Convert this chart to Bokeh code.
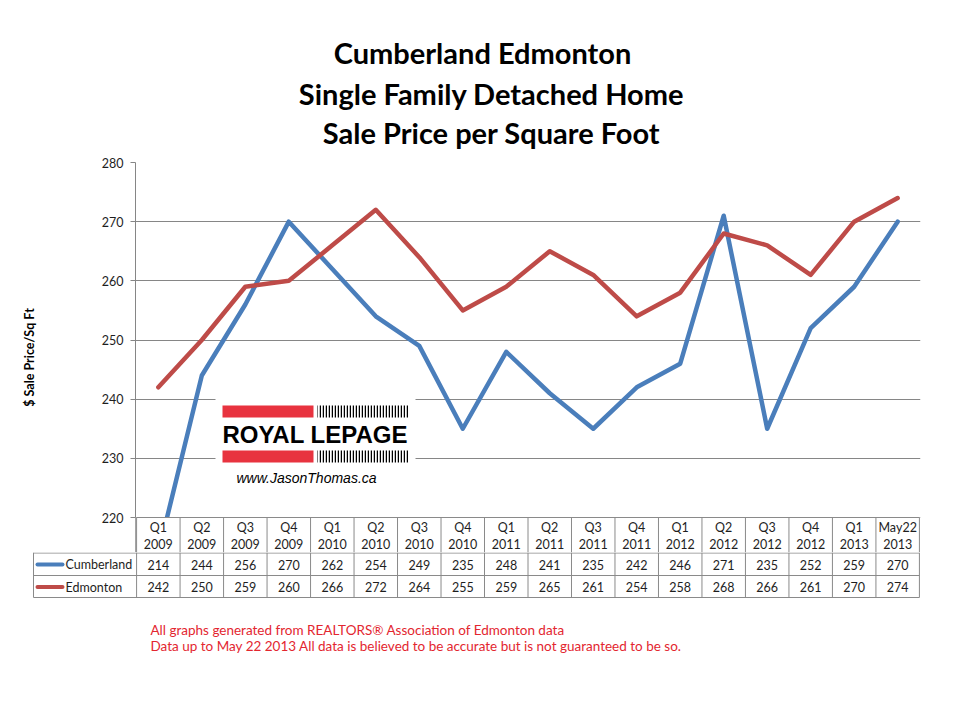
from bokeh.plotting import figure
from bokeh.models import Range1d, FactorRange, FixedTicker, BoxAnnotation
from bokeh.layouts import column
from bokeh.embed import file_html
from bokeh.resources import INLINE
from bokeh.core.properties import value

# ---------------- data ----------------
periods = ["Q1", "Q2", "Q3", "Q4", "Q1", "Q2", "Q3", "Q4", "Q1", "Q2",
           "Q3", "Q4", "Q1", "Q2", "Q3", "Q4", "Q1", "May22"]
years = ["2009", "2009", "2009", "2009", "2010", "2010", "2010", "2010", "2011", "2011",
         "2011", "2011", "2012", "2012", "2012", "2012", "2013", "2013"]
cumberland = [214, 244, 256, 270, 262, 254, 249, 235, 248, 241,
              235, 242, 246, 271, 235, 252, 259, 270]
edmonton = [242, 250, 259, 260, 266, 272, 264, 255, 259, 265,
            261, 254, 258, 268, 266, 261, 270, 274]
series_names = ["Cumberland", "Edmonton"]
y_ticks = [220, 230, 240, 250, 260, 270, 280]
y_label = "$ Sale Price/Sq Ft"
title_lines = ["Cumberland Edmonton", "Single Family Detached Home", "Sale Price per Square Foot"]
footer_lines = ["All graphs generated from REALTORS\u00ae Association of Edmonton data",
                "Data up to  May 22  2013  All data is believed to be accurate but is not guaranteed to be so."]
logo_name = "ROYAL LEPAGE"
logo_url = "www.JasonThomas.ca"

# ---------------- styling / layout (page pixel coordinates) ----------------
FONT = "Lato"
COLORS = ["#4A7EBB", "#BE4B48"]
GRID = "#868686"
TLINE = "#8a8a8a"
TXT = "#1e1e1e"
RED = "#E8333F"
FOOT_RED = "#e3262f"

ORIGIN = 0
W = 950
FRAME_L, FRAME_R = 135, 920
PLOT_T, PLOT_B = 162, 517
HEAD_B = 552
ROW_B = [575, 597]
P1_TOP = 152
TITLE_H = P1_TOP - ORIGIN
P2_H = 160
PAD = 0.025

n = len(periods)
cats = [f"{q} {y}" for q, y in zip(periods, years)]
col_w = (FRAME_R - FRAME_L) / (n + 2 * PAD)


def colx(page_x):
    """page x pixel -> column (synthetic categorical) coordinate"""
    return -PAD + (page_x - FRAME_L) / col_w


common = dict(toolbar_location=None, output_backend="svg", outline_line_color=None,
              frame_align=False)

# ---------------- title strip ----------------
p0 = figure(width=W, height=TITLE_H, x_range=Range1d(ORIGIN, ORIGIN + W),
            y_range=Range1d(P1_TOP, ORIGIN),
            x_axis_location=None, y_axis_location=None, min_border=0, **common)
p0.grid.visible = False
p0.text(x=[482, 491, 491], y=[52, 93, 132], text=title_lines, text_font=value(FONT),
        text_font_style="bold", text_font_size="29px", text_align="center",
        text_baseline="middle", text_color="black")

# ---------------- main plot (plus table header row) ----------------
px_per_unit = (PLOT_B - PLOT_T) / (y_ticks[-1] - y_ticks[0])
y_bottom = y_ticks[0] - (HEAD_B - PLOT_B) / px_per_unit
p1 = figure(width=W, height=HEAD_B - P1_TOP,
            x_range=FactorRange(factors=cats, range_padding=PAD, range_padding_units="absolute"),
            y_range=Range1d(y_bottom, y_ticks[-1]), x_axis_location=None,
            min_border_left=FRAME_L - ORIGIN, min_border_right=ORIGIN + W - FRAME_R,
            min_border_top=PLOT_T - P1_TOP, min_border_bottom=0, **common)
p1.extra_y_ranges = {"py": Range1d(HEAD_B, PLOT_T)}

ax = p1.yaxis[0]
ax.ticker = FixedTicker(ticks=y_ticks)
ax.axis_line_color = GRID
ax.major_tick_line_color = GRID
ax.major_tick_out = 5
ax.major_tick_in = 0
ax.minor_tick_line_color = None
ax.major_label_text_font = FONT
ax.major_label_text_font_size = "12.5px"
ax.major_label_text_color = TXT
ax.major_label_standoff = 7
ax.axis_label = y_label
ax.axis_label_text_font = FONT
ax.axis_label_text_font_size = "12.5px"
ax.axis_label_text_font_style = "bold"
ax.axis_label_text_color = "black"
ax.axis_label_standoff = 62
p1.ygrid.ticker = FixedTicker(ticks=y_ticks)
p1.ygrid.grid_line_color = GRID
p1.xgrid.visible = False

# logo (page y via extra range, x via column coordinates)
rk = dict(y_range_name="py")
p1.quad(left=[colx(215)], right=[colx(415)], top=[396], bottom=[491],
        fill_color="white", line_color=None, **rk)
p1.quad(left=[colx(222)] * 2, right=[colx(313)] * 2, top=[405, 450], bottom=[417, 462],
        fill_color=RED, line_color=None, **rk)
p1.quad(left=[colx(317)] * 2, right=[colx(408)] * 2, top=[405, 450], bottom=[417, 462],
        fill_color="white", line_color=None, hatch_pattern="vertical_line",
        hatch_color="black", hatch_scale=3, hatch_weight=1.5, **rk)
p1.text(x=[colx(222)], y=[434], text=[logo_name], text_font=value("Liberation Sans"),
        text_font_style="bold", text_font_size="24px", text_align="left",
        text_baseline="middle", text_color="black", **rk)
p1.text(x=[colx(236)], y=[477], text=[logo_url], text_font=value("Liberation Sans"),
        text_font_style="italic", text_font_size="14px", text_align="left",
        text_baseline="middle", text_color="black", **rk)

for vals, color in zip([cumberland, edmonton], COLORS):
    p1.line(x=cats, y=vals, line_width=4.5, line_color=color, line_join="round", line_cap="round")

# mask below the lowest tick (the chart area ends at 220)
p1.add_layout(BoxAnnotation(top=y_ticks[0], fill_color="white", fill_alpha=1.0,
                            line_color=None, level="annotation"))

# table header row
p1.segment(x0=[0], y0=[PLOT_B], x1=[n], y1=[PLOT_B], line_color=TLINE, line_width=1,
           y_range_name="py", level="overlay")
p1.segment(x0=list(range(n + 1)), y0=[PLOT_B] * (n + 1), x1=list(range(n + 1)),
           y1=[HEAD_B] * (n + 1), line_color=TLINE, line_width=1,
           y_range_name="py", level="overlay")
hdr = dict(text_font=value(FONT), text_font_size="12.5px", text_align="center",
           text_baseline="middle", text_color=TXT, y_range_name="py", level="overlay")
p1.text(x=cats, y=[527] * n, text=periods, **hdr)
p1.text(x=cats, y=[543] * n, text=years, **hdr)

# ---------------- table rows + footer ----------------
p2 = figure(width=W, height=P2_H,
            x_range=Range1d(colx(ORIGIN), colx(ORIGIN + W)), y_range=Range1d(HEAD_B + P2_H, HEAD_B),
            x_axis_location=None, y_axis_location=None, min_border=0, **common)
p2.grid.visible = False

leg_l = colx(33)
row_tops = [HEAD_B, ROW_B[0]]
row_bots = ROW_B
p2.segment(x0=[leg_l] * 3, y0=[HEAD_B + 0.5, ROW_B[0], ROW_B[1]], x1=[n] * 3,
           y1=[HEAD_B + 0.5, ROW_B[0], ROW_B[1]], line_color=TLINE, line_width=1)
vx = [leg_l] + list(range(n + 1))
p2.segment(x0=vx, y0=[HEAD_B] * len(vx), x1=vx, y1=[ROW_B[1]] * len(vx),
           line_color=TLINE, line_width=1)

centers = [i + 0.5 for i in range(n)]
for vals, name, color, top, bot in zip([cumberland, edmonton], series_names, COLORS, row_tops, row_bots):
    cy = (top + bot) / 2 + 0.5
    p2.text(x=centers, y=[cy] * n, text=[str(v) for v in vals], text_font=value(FONT),
            text_font_size="12.5px", text_align="center", text_baseline="middle", text_color=TXT)
    p2.segment(x0=[colx(37)], y0=[cy], x1=[colx(62)], y1=[cy], line_color=color,
               line_width=4, line_cap="round")
    p2.text(x=[colx(65)], y=[cy], text=[name], text_font=value(FONT), text_font_size="12.5px",
            text_align="left", text_baseline="middle", text_color=TXT)

p2.text(x=[colx(150)] * 2, y=[629, 645], text=footer_lines, text_font=value(FONT),
        text_font_size="13.5px", text_align="left", text_baseline="middle", text_color=FOOT_RED)

layout = column(p0, p1, p2, spacing=0)
open("out.html", "w").write(file_html(layout, INLINE))
